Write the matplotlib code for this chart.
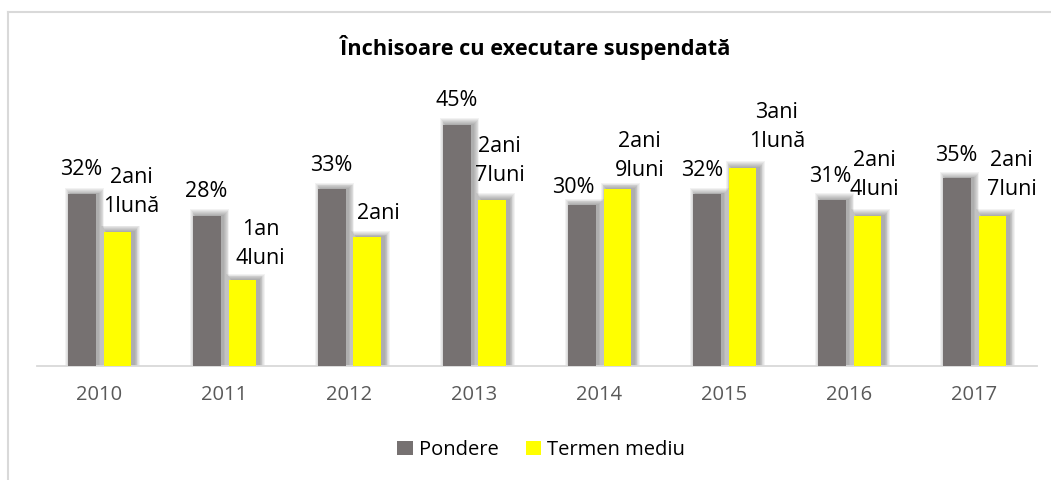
import matplotlib
matplotlib.use("Agg")
import matplotlib.pyplot as plt
from matplotlib.patches import Patch
import numpy as np

years = ["2010", "2011", "2012", "2013", "2014", "2015", "2016", "2017"]
pondere = [32, 28, 33, 45, 30, 32, 31, 35]
pondere_labels = ["32%", "28%", "33%", "45%", "30%", "32%", "31%", "35%"]
termen = [25, 16, 24, 31, 33, 37, 28, 28]
termen_labels = ["2ani\n1lună", "1an\n4luni", "2ani", "2ani\n7luni",
                 "2ani\n9luni", "3ani\n1lună", "2ani\n4luni", "2ani\n7luni"]
series_names = ["Pondere", "Termen mediu"]
title = "Închisoare cu executare suspendată"

# label placement (pixels: dx, dy of bottom line centre above bar top)
p_off = [(0, 25), (0, 24), (0, 24), (0, 24), (-8.5, 18), (-4, 24), (-1, 23), (0, 23)]
t_off = [(14, 25), (18, 22), (11, 24), (7, 24), (22, 19), (34.5, 26), (7, 26), (19, 26)]

plt.rcParams['font.family'] = ['Open Sans', 'DejaVu Sans']

W, H = 1051, 480
fig = plt.figure(figsize=(W / 100, H / 100), dpi=100)
ax = fig.add_axes([37 / W, (H - 365.7) / H, 1000 / W, 267.7 / H])

grey = "#767171"
yellow = "#FFFF00"
bw = 0.222
off = 0.143
x = np.arange(len(years))
px_x = 1 / 125.0
px_y = 50 / 267.7

# soft shadows
for s in range(1, 8):
    for xs, vals in ((x - off, pondere), (x + off, termen)):
        ax.bar(xs + 3 * px_x, np.array(vals) + s * px_y * 0.9, width=bw + 2 * s * px_x * 0.8,
               color="black", alpha=0.05, linewidth=0, zorder=1)

ax.bar(x - off, pondere, width=bw, color=grey, zorder=3)
ax.bar(x + off, termen, width=bw, color=yellow, zorder=3)

fs_lab = 15.5
for i in range(len(years)):
    dx, dy = p_off[i]
    ax.annotate(pondere_labels[i], xy=(x[i] - off, pondere[i]), xytext=(dx * 0.72, dy * 0.72),
                textcoords="offset points", ha="center", va="center", fontsize=fs_lab,
                color="black", zorder=5)
    dx, dy = t_off[i]
    lines = termen_labels[i].split("\n")
    for j, ln in enumerate(reversed(lines)):
        ax.annotate(ln, xy=(x[i] + off, termen[i]), xytext=(dx * 0.72, (dy + 29 * j) * 0.72),
                    textcoords="offset points", ha="center", va="center", fontsize=fs_lab,
                    color="black", zorder=5)

ax.set_xlim(-0.5, len(years) - 0.5)
ax.set_ylim(0, 50)
ax.set_yticks([])
ax.set_xticks(x)
ax.set_xticklabels(years, fontsize=14.5, color="#595959")
ax.tick_params(axis="x", length=0, pad=14)
for sp in ("top", "right", "left"):
    ax.spines[sp].set_visible(False)
ax.spines["bottom"].set_color("#d9d9d9")
ax.spines["bottom"].set_linewidth(1.3)
ax.patch.set_alpha(0)

fig.text(534.7 / W, 1 - 48 / H, title, ha="center", va="center", fontsize=15.7,
         fontweight="bold", color="black")

handles = [Patch(facecolor=grey, edgecolor="none"), Patch(facecolor=yellow, edgecolor="none")]
fig.legend(handles, series_names, loc="center", bbox_to_anchor=(541 / W, 1 - 450 / H),
           ncol=2, frameon=False, fontsize=14.5, handlelength=0.75, handleheight=0.75,
           handletextpad=0.3, columnspacing=1.35)

# chart frame (top and left edges)
fig.add_artist(plt.Line2D([8 / W, 8 / W], [0, 1 - 12 / H], color="#d9d9d9", lw=1.5,
                          transform=fig.transFigure))
fig.add_artist(plt.Line2D([8 / W, 1], [1 - 12 / H, 1 - 12 / H], color="#d9d9d9", lw=1.5,
                          transform=fig.transFigure))

fig.savefig("out.png", dpi=100)
